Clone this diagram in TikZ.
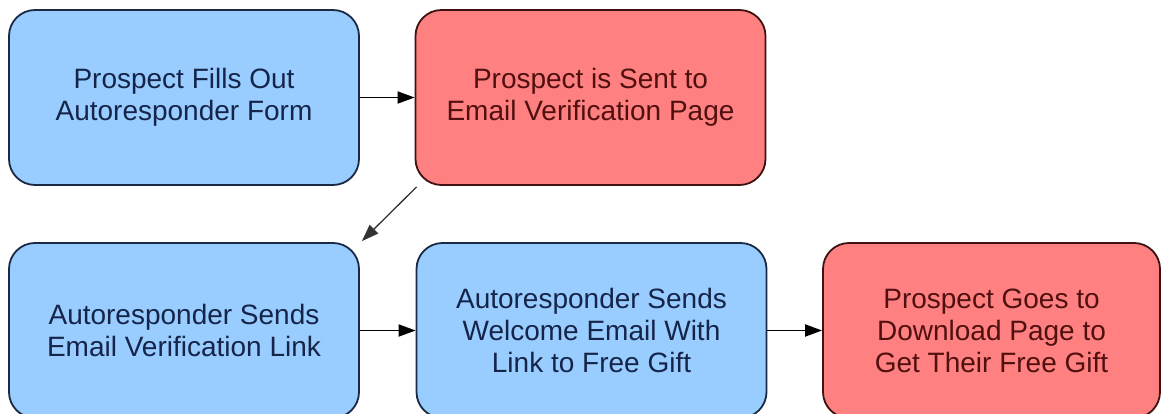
\documentclass[tikz,border=0pt]{standalone}
\usepackage{fontspec}
\setmainfont{Liberation Sans}
\usetikzlibrary{arrows.meta}
\definecolor{bfill}{HTML}{99CCFF}
\definecolor{bline}{HTML}{1A2A45}
\definecolor{btext}{HTML}{15254A}
\definecolor{rfill}{HTML}{FF8080}
\definecolor{rline}{HTML}{3F1212}
\definecolor{rtext}{HTML}{501010}
\tikzset{
  box/.style={rounded corners=26pt, line width=1.8pt, minimum height=175pt, inner sep=0pt,
    align=center, font=\fontsize{28}{32}\selectfont},
  bluebox/.style={box, fill=bfill, draw=bline, text=btext, minimum width=350pt},
  redbox/.style={box, fill=rfill, draw=rline, text=rtext, minimum width=350pt},
  conn/.style={line width=1.8pt, -{Triangle[length=17pt,width=12pt]}, black},
}
\begin{document}
\begin{tikzpicture}[x=1pt,y=-1pt]
\clip (0,0) rectangle (1162,414);
\fill[white] (0,0) rectangle (1162,414);
\node[bluebox] (b1) at (184,97.5) {Prospect Fills Out\\Autoresponder Form};
\node[redbox] (b2) at (590.5,97.5) {Prospect is Sent to\\Email Verification Page};
\node[bluebox] (b3) at (184,330.5) {Autoresponder Sends\\Email Verification Link};
\node[bluebox] (b4) at (591.5,330.5) {Autoresponder Sends\\Welcome Email With\\Link to Free Gift};
\node[redbox, minimum width=337pt] (b5) at (991.5,330.5) {Prospect Goes to\\Download Page to\\Get Their Free Gift};
\draw[conn] (b1.east) -- (b2.west);
\draw[conn, line width=1.3pt, draw=black!80] ([shift={(2pt,-1pt)}]b2.south west) -- ([shift={(2pt,1pt)}]b3.north east);
\draw[conn] (b3.east) -- (b4.west);
\draw[conn] (b4.east) -- (b5.west);
\end{tikzpicture}
\end{document}
